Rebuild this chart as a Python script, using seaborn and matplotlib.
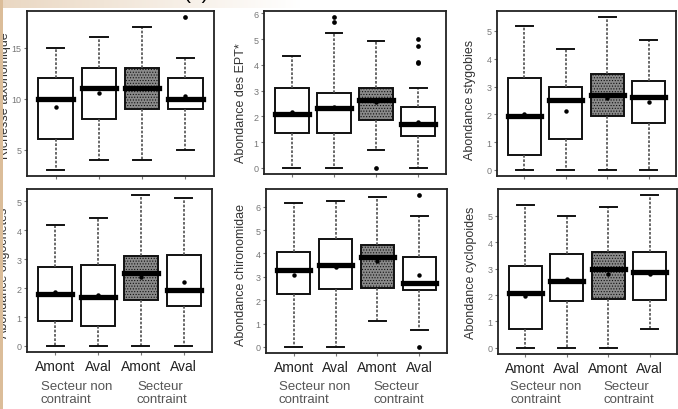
import numpy as np
import pandas as pd
import matplotlib
matplotlib.use("Agg")
import matplotlib.pyplot as plt
import matplotlib.transforms as mtransforms
from matplotlib.patches import Rectangle
import seaborn as sns

# ---------------- data ----------------
groups = ["NC_Amont", "NC_Aval", "C_Amont", "C_Aval"]
tick_labels = ["Amont", "Aval", "Amont", "Aval"]
sector_labels = ["Secteur non\ncontraint", "Secteur\ncontraint"]

# five-number summaries per group: [lower whisker, Q1, median, Q3, upper whisker]
richesse_box = [[3, 6, 10, 12, 15], [4, 8, 11, 13, 16], [4, 9, 11, 13, 17], [5, 9, 10, 12, 14]]
richesse_mean = [9.2, 10.55, 11.0, 10.3]
richesse_out = [[], [], [], [18]]

ept_box = [[0, 1.35, 2.08, 3.12, 4.33], [0, 1.36, 2.31, 2.93, 5.24],
           [0.68, 1.86, 2.65, 3.12, 4.93], [0, 1.25, 1.71, 2.35, 3.12]]
ept_mean = [2.18, 2.36, 2.55, 1.79]
ept_out = [[], [5.66, 5.86], [0], [4.08, 4.13, 4.72, 5.0]]

stygo_box = [[0, 0.53, 1.95, 3.32, 5.17], [0, 1.1, 2.52, 2.99, 4.35],
             [0, 1.93, 2.7, 3.45, 5.5], [0, 1.69, 2.63, 3.2, 4.68]]
stygo_mean = [2.02, 2.13, 2.59, 2.46]
stygo_out = [[], [], [], []]

oligo_box = [[0, 0.88, 1.78, 2.74, 4.19], [0, 0.68, 1.7, 2.8, 4.41],
             [0, 1.6, 2.51, 3.1, 5.22], [0, 1.38, 1.94, 3.16, 5.13]]
oligo_mean = [1.86, 1.75, 2.37, 2.22]
oligo_out = [[], [], [], []]

chiro_box = [[0, 2.25, 3.28, 4.05, 6.15], [0, 2.5, 3.5, 4.6, 6.23],
             [1.1, 2.52, 3.83, 4.36, 6.43], [0.71, 2.45, 2.72, 3.84, 5.62]]
chiro_mean = [3.1, 3.43, 3.69, 3.09]
chiro_out = [[], [], [], [0, 6.5]]

cyclo_box = [[0, 0.71, 2.07, 3.08, 5.4], [0, 1.79, 2.53, 3.56, 4.99],
             [0, 1.86, 2.98, 3.63, 5.34], [0.71, 1.8, 2.89, 3.62, 5.78]]
cyclo_mean = [1.95, 2.6, 2.8, 2.79]
cyclo_out = [[], [], [], []]

ylabels = ["Richesse taxonomique", "Abondance des EPT*", "Abondance stygobies",
           "Abondance oligochetes", "Abondance chironomidae", "Abondance cyclopoides"]
yticks_list = [[5, 10, 15], list(range(7)), list(range(6)),
               list(range(6)), list(range(7)), list(range(6))]

# ---------------- layout / style ----------------
W, H = 678, 410
box_colors = ["white", "white", "#8a8a8a", "white"]
# (left, top, right, bottom) in pixels, ylabel anchor offset in px from left spine, ylabel y (axes frac)
rects = [(27, 12, 214, 177, -16, 0.49), (264, 12, 446, 175, -17, 0.44),
         (497, 12, 676, 177, -21, 0.47), (27, 190, 212, 353, -17, 0.49),
         (266, 190, 447, 354, -19, 0.48), (498, 190, 677, 355, -21, 0.5)]

plt.rcParams["font.family"] = ["Liberation Sans", "DejaVu Sans"]
plt.rcParams["hatch.color"] = "#4a4a4a"
plt.rcParams["hatch.linewidth"] = 0.5

fig = plt.figure(figsize=(W / 100, H / 100), dpi=100)
fig.patch.set_facecolor("white")

# background: beige band at the top-left and strip at the left edge
tan = np.array([0.86, 0.74, 0.60])
xs = np.arange(W)
ys = np.arange(H)
band = (ys < 9)[:, None] * np.clip(1 - xs / 300.0, 0, 1)[None, :] * 0.6
bg = np.ones((H, W, 3)) * (1 - band[..., None]) + tan * band[..., None]
fig.figimage(bg, 0, 0, origin="upper", zorder=-5)

datasets = [
    (richesse_box, richesse_mean, richesse_out),
    (ept_box, ept_mean, ept_out),
    (stygo_box, stygo_mean, stygo_out),
    (oligo_box, oligo_mean, oligo_out),
    (chiro_box, chiro_mean, chiro_out),
    (cyclo_box, cyclo_mean, cyclo_out),
]

for i, ((box, means, outs), ylabel, yticks, rect) in enumerate(zip(datasets, ylabels, yticks_list, rects)):
    l, t, r, b, lab_off, lab_y = rect
    ax = fig.add_axes([l / W, 1 - b / H, (r - l) / W, (b - t) / H])

    long = pd.DataFrame({"group": np.repeat(groups, 5), "value": np.concatenate(box)})
    sns.boxplot(
        data=long, x="group", y="value", hue="group", order=groups, hue_order=groups,
        palette=box_colors, saturation=1, width=0.8, whis=(0, 100), showfliers=False,
        linecolor="#111111", linewidth=1.3, legend=False, ax=ax,
        boxprops=dict(linewidth=1.4, edgecolor="#111111"),
        whiskerprops=dict(color="#505050", linestyle=(0, (1.6, 1.0)), linewidth=1.2),
        capprops=dict(color="#111111", linewidth=1.4),
        medianprops=dict(color="black", linewidth=3.8, solid_capstyle="projecting"),
    )
    if len(ax.patches) >= 3:
        ax.patches[2].set_hatch("......")

    # means
    sns.stripplot(x=groups, y=means, order=groups, jitter=False, color="black",
                  size=3.2, ax=ax, zorder=6)
    # outliers
    og = [g for g, o in zip(groups, outs) for _ in o]
    ov = [v for o in outs for v in o]
    if ov:
        sns.stripplot(x=og, y=ov, order=groups, jitter=False, color="black",
                      size=3.4, ax=ax, zorder=6)

    allv = np.concatenate([np.concatenate(box), ov, means])
    lo, hi = allv.min(), allv.max()
    pad = 0.04 * (hi - lo)
    ax.set_ylim(lo - pad, hi + pad)
    ax.set_xlim(-0.66, 3.66)
    ax.set_yticks(yticks)
    ax.set_xticks(range(4))
    ax.set_xlabel("")
    if i >= 3:
        ax.set_xticklabels(tick_labels)
    else:
        ax.set_xticklabels([])
    ax.set_ylabel(ylabel, fontsize=9, color="#333333")
    ax.yaxis.set_label_coords(lab_off / (r - l), lab_y)

    ax.tick_params(axis="both", direction="out", length=2.5, width=0.8, color="#777777")
    ax.tick_params(axis="y", labelsize=6.5, labelcolor="#777777", pad=1.5)
    ax.tick_params(axis="x", labelsize=10, labelcolor="#222222", pad=2.5)
    for s in ax.spines.values():
        s.set_visible(True)
        s.set_color("#222222")
        s.set_linewidth(1.3)
    ax.set_facecolor("white")

    if i >= 3:
        tr = mtransforms.blended_transform_factory(ax.transData, fig.transFigure)
        for gx, txt in zip([0.5, 2.5], sector_labels):
            fig.text(gx, 1 - 381 / H, txt, transform=tr, ha="center", va="top",
                     multialignment="left", fontsize=9.5, color="#555555", linespacing=1.15)

# cut-off panel tag at the top
fig.text(196 / W, 1 + 1 / H, "(a)", fontsize=15, ha="center", va="baseline", color="black")
# left beige strip
fig.add_artist(Rectangle((0, 0), 3 / W, 1, transform=fig.transFigure,
                         facecolor=tan, edgecolor="none", zorder=50))

fig.savefig("out.png", dpi=100, facecolor=fig.get_facecolor())
